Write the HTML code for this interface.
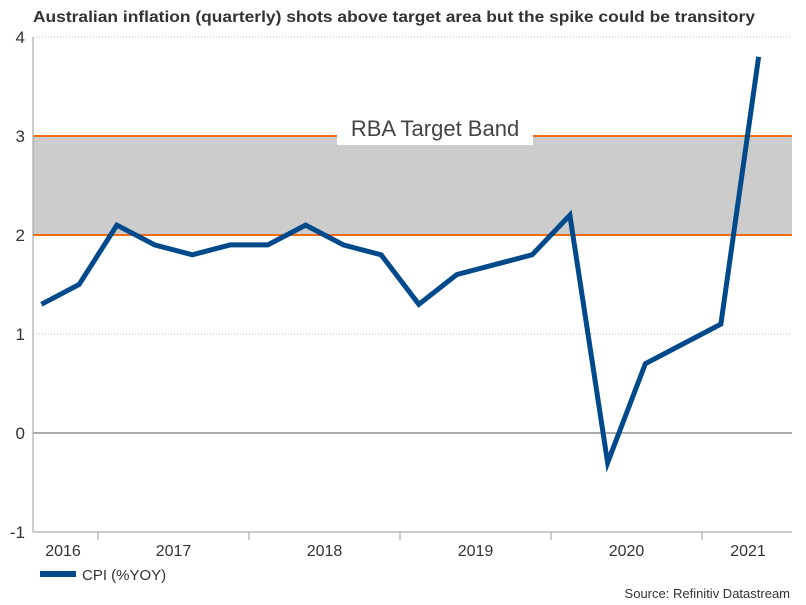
<!DOCTYPE html>
<html><head><meta charset="utf-8"><style>
body{margin:0;background:#fff;}
svg{display:block;font-family:"Liberation Sans Narrow","Liberation Sans",sans-serif;}
</style></head><body>
<svg id="c" width="806" height="605">
<text x="33" y="22" font-size="16" font-weight="bold" fill="#333" textLength="722" lengthAdjust="spacingAndGlyphs">Australian inflation (quarterly) shots above target area but the spike could be transitory</text>
<g id="grid"></g>
<g id="band"></g>
<g id="axes"></g>
<g id="series"></g>
<g>
<rect x="40" y="571" width="36" height="6" fill="#004a8c"/>
<text x="82" y="580" font-size="15" fill="#333">CPI (%YOY)</text>
</g>
<text x="790" y="598" font-size="13" fill="#333" text-anchor="end">Source: Refinitiv Datastream</text>
</svg>
<script>
const yTicks=[4,3,2,1,0,-1];
const values=[1.3,1.5,2.1,1.9,1.8,1.9,1.9,2.1,1.9,1.8,1.3,1.6,1.7,1.8,2.2,-0.3,0.7,0.9,1.1,3.8];
const years=["2016","2017","2018","2019","2020","2021"];
const bandLow=2, bandHigh=3;
const NS="http://www.w3.org/2000/svg";
const L=33,R=792,T=37,B=532;
function y(v){return T+(4-v)*(B-T)/5;}
function x(i){return 98+(i-2+0.5)*37.75;}
function mk(t,a,p){const e=document.createElementNS(NS,t);for(const k in a)e.setAttribute(k,a[k]);p.appendChild(e);return e;}
const grid=document.getElementById('grid'),axes=document.getElementById('axes'),band=document.getElementById('band'),ser=document.getElementById('series');
yTicks.forEach(v=>{
 const g=mk('line',{x1:L,x2:R,y1:y(v),y2:y(v),stroke:v===0?'#555':'#bbb','stroke-dasharray':v===0?'':'1,2','stroke-width':1},grid);
 
 
 const t=mk('text',{x:L-8,y:y(v)+6,'font-size':17,fill:'#333','text-anchor':'end'},axes);
 t.textContent=v;
 
 
});
const br=mk('rect',{x:L,y:y(bandHigh),width:R-L,height:y(bandLow)-y(bandHigh),fill:'#cccccc'},band);


[bandLow,bandHigh].forEach(v=>{const l=mk('line',{x1:L,x2:R,y1:y(v),y2:y(v),stroke:'#f26c12','stroke-width':2},band);
 
 });
const lb=mk('rect',{x:337,y:112,width:196,height:33,fill:'#fff'},band);


const lt=mk('text',{x:435,y:136,'font-size':22,fill:'#444','text-anchor':'middle'},band);
lt.textContent='RBA Target Band';


const ax=mk('line',{x1:L,x2:L,y1:T,y2:B,stroke:'#999'},axes);


const bx=mk('line',{x1:L,x2:R,y1:B,y2:B,stroke:'#999'},axes);


years.forEach((yr,k)=>{
 const bnd=98+k*151;
 if(k<5){const tk=mk('line',{x1:bnd,x2:bnd,y1:B,y2:B+8,stroke:'#999'},axes);
 
 }
 let cx=k===0?63:(k===5?748:bnd-151+75.5);
 const t=mk('text',{x:cx,y:556,'font-size':16,fill:'#333','text-anchor':'middle'},axes);
 t.textContent=yr;
 
 
});
const p=mk('polyline',{points:values.map((v,i)=>x(i)+','+y(v)).join(' '),fill:'none',stroke:'#004a8c','stroke-width':5,'stroke-linejoin':'miter'},ser);


</script>
</body></html>
